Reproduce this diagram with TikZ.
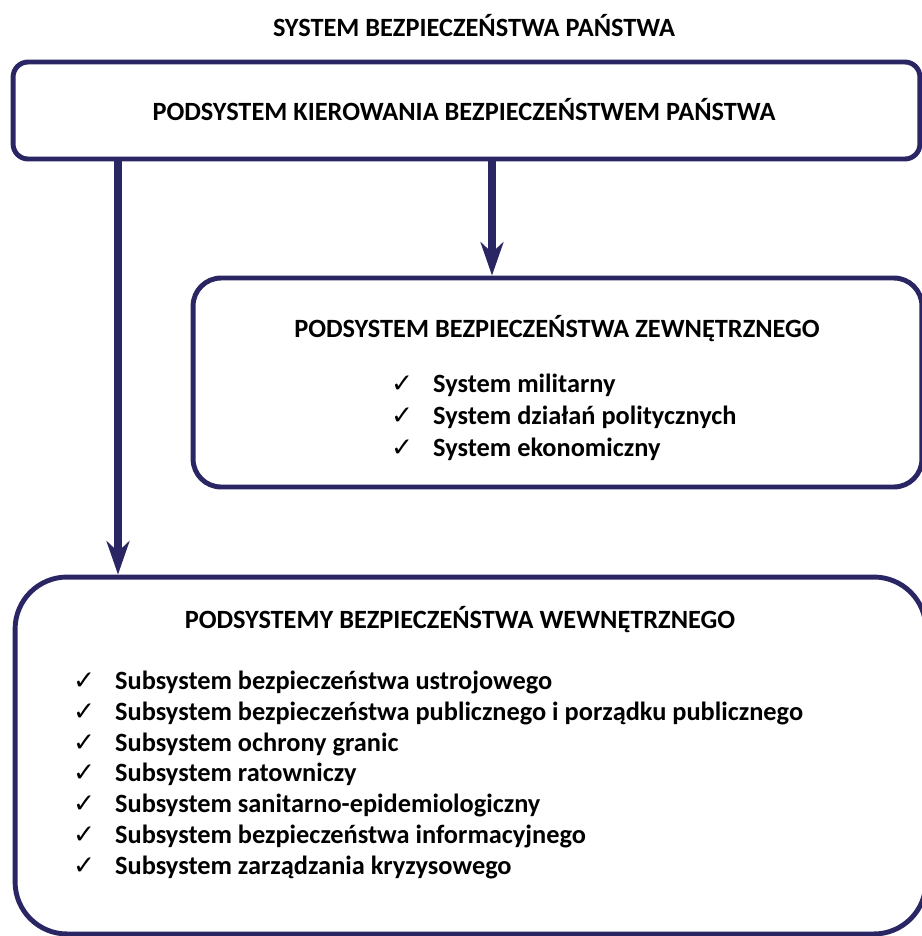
\documentclass[tikz,border=0pt]{standalone}
\usepackage{fontspec}
\setmainfont{Carlito}
\newfontfamily\symfont{DejaVu Sans}
\usetikzlibrary{arrows.meta}
\definecolor{navy}{RGB}{41, 38, 99}
\def\rsmall{0.3cm}
\def\rmid{0.56cm}
\def\rbig{1.04cm}
\def\chk{\makebox[0.84cm][l]{\symfont\mdseries\fontsize{15}{15}\selectfont\char"2713}}

\begin{document}
\begin{tikzpicture}[x=0.02cm, y=-0.02cm, line cap=round,
    box/.style={draw=navy, line width=2.8pt},
    title/.style={font=\bfseries\fontsize{15}{18}\selectfont, anchor=base},
    item/.style={font=\bfseries\fontsize{15}{18}\selectfont, anchor=base west},
    arr/.style={navy, line width=4pt, -{Stealth[length=19pt, width=13pt, inset=6pt]}}]

        \useasboundingbox (0, 0) rectangle (922, 936);
        \clip (0, 0) rectangle (922, 936);

        \node[title] (sys) at (474, 37) {SYSTEM BEZPIECZEŃSTWA PAŃSTWA};

        \node[box, rounded corners=\rsmall, minimum width=18.14cm, minimum height=1.94cm]
        (kier) at (466.5, 110.5) {};
        \node[title] (kiert) at (464, 120) {PODSYSTEM KIEROWANIA BEZPIECZEŃSTWEM PAŃSTWA};

        \node[box, rounded corners=\rmid, minimum width=14.58cm, minimum height=4.18cm]
        (zew) at (557.5, 382.5) {};
        \node[title] (zewt) at (557, 337) {PODSYSTEM BEZPIECZEŃSTWA ZEWNĘTRZNEGO};

        \node[item] (zew1) at (385, 392) {\chk System militarny};
        \node[item] (zew2) at (385, 424) {\chk System działań politycznych};
        \node[item] (zew3) at (385, 456) {\chk System ekonomiczny};

        \node[box, rounded corners=\rbig, minimum width=18.22cm, minimum height=7.14cm]
        (wew) at (470.5, 755.5) {};
        \node[title] (wewt) at (460, 628) {PODSYSTEMY BEZPIECZEŃSTWA WEWNĘTRZNEGO};

        \node[item] (wew1) at (67, 689) {\chk Subsystem bezpieczeństwa ustrojowego};
        \node[item] (wew2) at (67, 720) {\chk Subsystem bezpieczeństwa publicznego i porządku publicznego};
        \node[item] (wew3) at (67, 751) {\chk Subsystem ochrony granic};
        \node[item] (wew4) at (67, 781) {\chk Subsystem ratowniczy};
        \node[item] (wew5) at (67, 812) {\chk Subsystem sanitarno-epidemiologiczny};
        \node[item] (wew6) at (67, 843) {\chk Subsystem bezpieczeństwa informacyjnego};
        \node[item] (wew7) at (67, 874) {\chk Subsystem zarządzania kryzysowego};

        \coordinate (lft) at (118, 0);
        \coordinate (mid) at (492, 0);

        \draw[arr] (kier.south -| lft) -- (wew.north -| lft);
        \draw[arr] (kier.south -| mid) -- (zew.north -| mid);

\end{tikzpicture}
\end{document}
